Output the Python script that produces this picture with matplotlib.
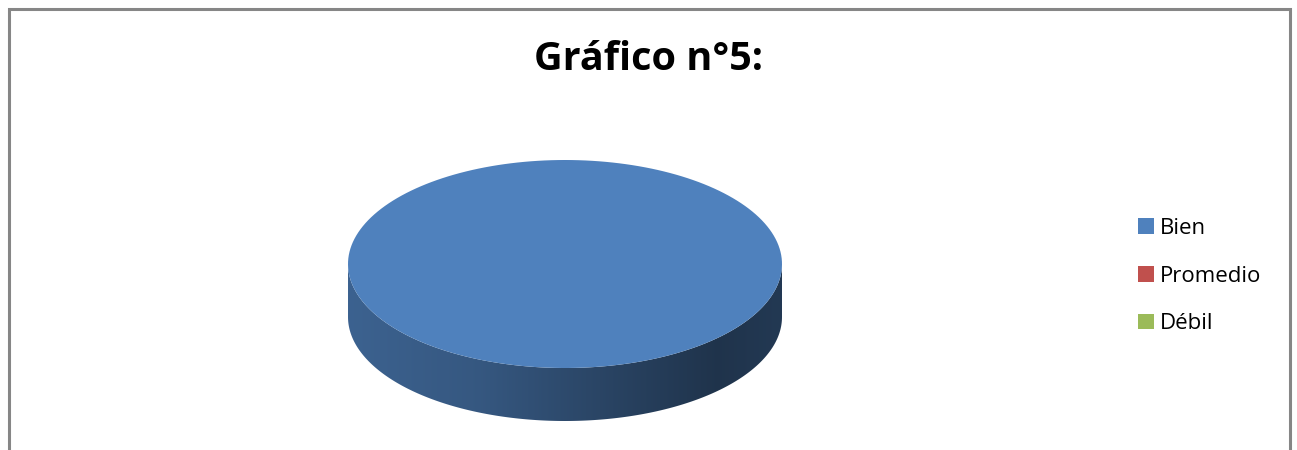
import numpy as np
import matplotlib.pyplot as plt
from matplotlib.patches import Polygon, Patch

# --- data ---
categories = ["Bien", "Promedio", "Débil"]
values = [100, 0, 0]
slice_colors = ["#4F81BD", "#C0504D", "#9BBB59"]
title = "Gráfico n°5:"

plt.rcParams['font.family'] = ['Open Sans', 'DejaVu Sans']

W, H = 1297, 450
fig = plt.figure(figsize=(W / 100, H / 100), dpi=100)
ax = fig.add_axes([0, 0, 1, 1])
ax.set_xlim(0, W)
ax.set_ylim(H, 0)
ax.axis('off')

# chart frame, bottom edge runs past the canvas
ax.plot([9, 9, 1290, 1290], [H + 5, 9, 9, H + 5], color="#868686", lw=2.2,
        solid_joinstyle='miter')

ax.text(649, 59, title, ha='center', va='center', fontsize=28.5, fontweight='bold',
        color='black')

# pie geometry (pixels)
cx, cy, rx, ry, depth = 565, 264, 217, 104, 53


def rim(p0, p1, n=200):
    # points on the ellipse edge, angle measured clockwise from 12 o'clock
    phi = np.radians(np.linspace(p0, p1, n))
    return cx + rx * np.sin(phi), cy - ry * np.cos(phi)


def side_shade(rgb, xs):
    # darker towards the right of the rim, a little lift at the far edge
    t = (xs - (cx - rx)) / (2 * rx)
    f = np.interp(t, [0.0, 0.3, 0.55, 0.85, 1.0], [0.76, 0.68, 0.55, 0.40, 0.44])
    return np.clip(np.array(rgb)[None, :] * f[:, None], 0, 1)


total = float(sum(values))
start = 0.0
for val, col in zip(values, slice_colors):
    if val <= 0:
        continue
    span = 360.0 * val / total
    p0, p1 = start, start + span
    start = p1

    # front wall: only the part of the rim facing the viewer
    a, b = max(p0, 90), min(p1, 270)
    if b > a:
        xs, ys = rim(a, b)
        wall = np.column_stack([np.r_[xs, xs[::-1]], np.r_[ys, ys[::-1] + depth]])
        clip = Polygon(wall, closed=True, facecolor='none', edgecolor='none')
        ax.add_patch(clip)
        gx = np.linspace(cx - rx, cx + rx, 400)
        grad = side_shade(plt.matplotlib.colors.to_rgb(col), gx)[None, :, :]
        im = ax.imshow(grad, extent=[cx - rx, cx + rx, cy + depth + ry + 2, cy - 2],
                       aspect='auto', interpolation='bilinear', zorder=2)
        im.set_clip_path(clip)

    # top face
    xs, ys = rim(p0, p1)
    if span < 360:
        xs, ys = np.r_[cx, xs], np.r_[cy, ys]
    ax.add_patch(Polygon(np.column_stack([xs, ys]), closed=True, facecolor=col,
                         edgecolor='none', zorder=3))

ax.set_xlim(0, W)
ax.set_ylim(H, 0)

handles = [Patch(facecolor=c, edgecolor='none') for c in slice_colors]
ax.legend(handles, categories, loc='center left', bbox_to_anchor=(1118 / W, 1 - 276 / H),
          frameon=False, fontsize=16, handlelength=0.7, handleheight=0.7,
          handletextpad=0.3, labelspacing=1.2)

fig.savefig("out.png", dpi=100, facecolor='white')
